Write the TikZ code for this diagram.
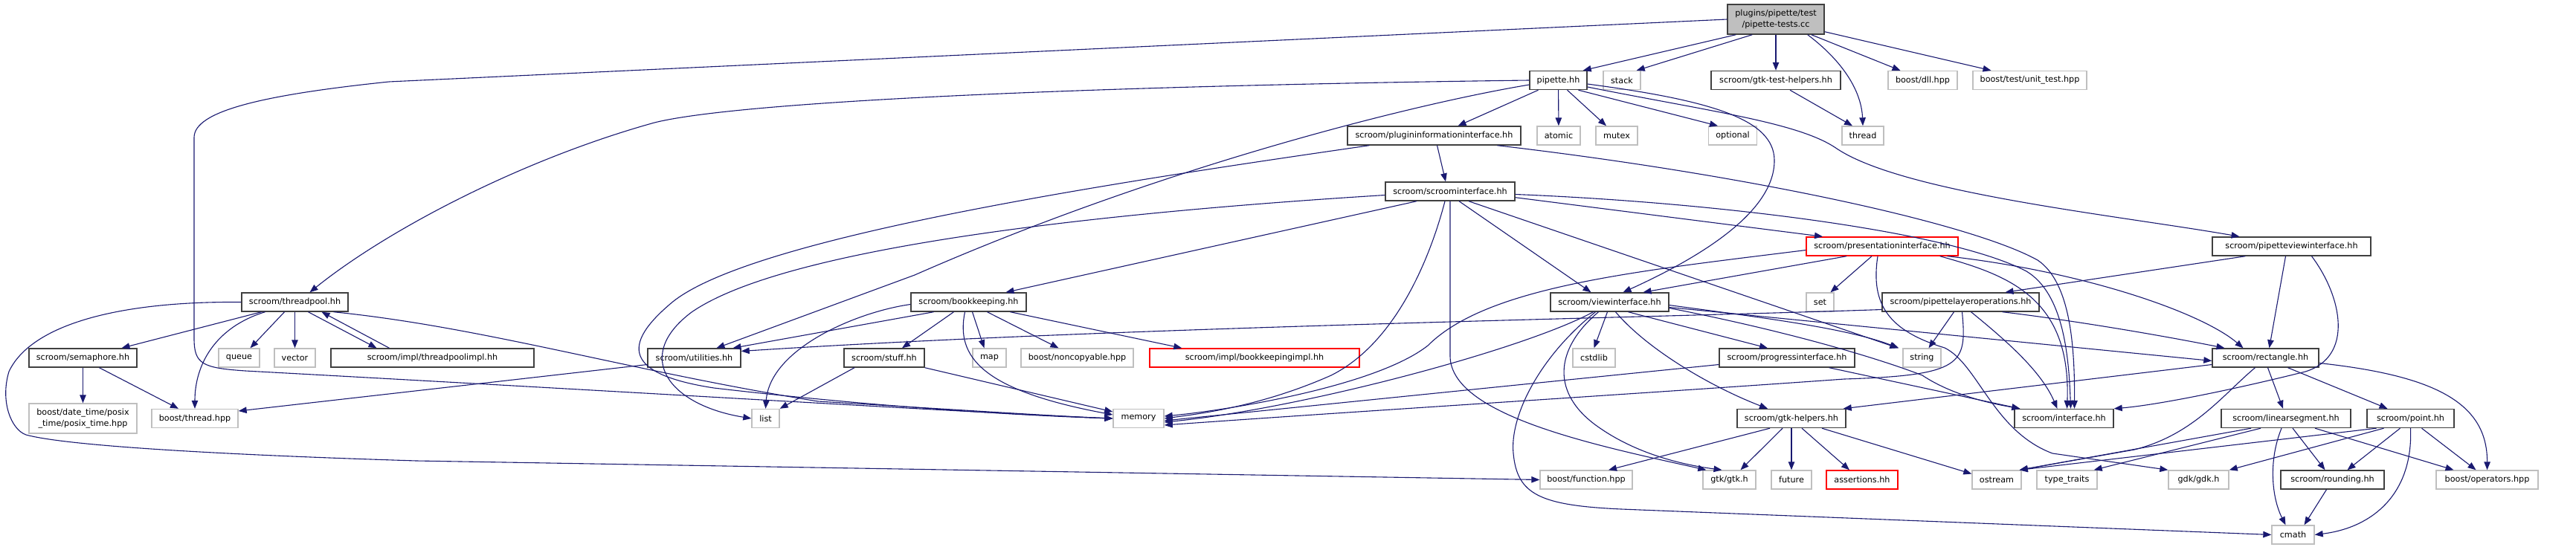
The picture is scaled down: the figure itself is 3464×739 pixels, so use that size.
\documentclass[tikz,border=0pt]{standalone}
\usepackage{fontspec}
\setmainfont{DejaVu Sans}
\usetikzlibrary{arrows.meta}

\definecolor{edgeblue}{RGB}{25,25,112}
\definecolor{boxgray}{RGB}{64,64,64}
\definecolor{extgray}{RGB}{191,191,191}
\definecolor{truncred}{RGB}{255,0,0}

\tikzset{
  hdr/.style={draw=boxgray, line width=1.4pt, rectangle, minimum height=25pt, inner sep=0pt,
    font=\fontsize{11.2}{15}\selectfont},
  sysinc/.style={hdr, draw=extgray},
  cuthdr/.style={hdr, draw=truncred},
  srcfile/.style={hdr, fill=extgray, align=center},
  dep/.style={draw=edgeblue, line width=1.1pt, -{Triangle[length=11pt,width=8.5pt]}}
}

\begin{document}
\begin{tikzpicture}[x=1pt, y=-1pt]

\useasboundingbox (0,0) rectangle (3464,739);

% Source file
\node[srcfile, minimum width=130pt, minimum height=40pt] (root) at (2388,26) {plugins/pipette/test\\/pipette-tests.cc};

% Row 1
\node[hdr, minimum width=77pt] (pipette) at (2095.5,108) {pipette.hh};
\node[sysinc, minimum width=50pt] (stack) at (2181,108) {stack};
\node[hdr, minimum width=174pt] (gtktest) at (2388,108) {scroom/gtk-test-helpers.hh};
\node[sysinc, minimum width=93pt] (dll) at (2585.5,108) {boost/dll.hpp};
\node[sysinc, minimum width=153pt] (unittest) at (2729.5,108) {boost/test/unit\_test.hpp};

% Row 2
\node[hdr, minimum width=233pt] (pluginfo) at (1928.5,182.5) {scroom/plugininformationinterface.hh};
\node[sysinc, minimum width=58pt] (atomic) at (2096,182.5) {atomic};
\node[sysinc, minimum width=56pt] (mutex) at (2174,182.5) {mutex};
\node[sysinc, minimum width=65pt] (optional) at (2330,182.5) {optional};
\node[sysinc, minimum width=56pt] (thread) at (2505,182.5) {thread};

% Row 3
\node[hdr, minimum width=174pt] (scroomif) at (1950,257.5) {scroom/scroominterface.hh};

% Row 4
\node[cuthdr, minimum width=204pt] (presentif) at (2531,331.5) {scroom/presentationinterface.hh};
\node[hdr, minimum width=213pt] (pipetteview) at (3081.5,331.5) {scroom/pipetteviewinterface.hh};

% Row 5
\node[hdr, minimum width=143pt] (threadpool) at (396.5,406.5) {scroom/threadpool.hh};
\node[hdr, minimum width=155pt] (bookkeeping) at (1302.5,406.5) {scroom/bookkeeping.hh};
\node[hdr, minimum width=159pt] (viewif) at (2164.5,406.5) {scroom/viewinterface.hh};
\node[sysinc, minimum width=37pt] (set) at (2447.5,406.5) {set};
\node[hdr, minimum width=211pt] (layerops) at (2636.5,406.5) {scroom/pipettelayeroperations.hh};

% Row 6
\node[hdr, minimum width=145pt] (semaphore) at (111.5,481.5) {scroom/semaphore.hh};
\node[sysinc, minimum width=55pt] (queue) at (321.5,481.5) {queue};
\node[sysinc, minimum width=55pt] (vector) at (396.5,481.5) {vector};
\node[hdr, minimum width=273pt] (poolimpl) at (581.5,481.5) {scroom/impl/threadpoolimpl.hh};
\node[hdr, minimum width=125pt] (utilities) at (933.5,481.5) {scroom/utilities.hh};
\node[hdr, minimum width=108pt] (stuff) at (1189,481.5) {scroom/stuff.hh};
\node[sysinc, minimum width=45pt] (map) at (1330.5,481.5) {map};
\node[sysinc, minimum width=151pt] (noncopy) at (1448.5,481.5) {boost/noncopyable.hpp};
\node[cuthdr, minimum width=282pt] (bkimpl) at (1687,481.5) {scroom/impl/bookkeepingimpl.hh};
\node[sysinc, minimum width=57pt] (cstdlib) at (2143.5,481.5) {cstdlib};
\node[hdr, minimum width=182pt] (progressif) at (2403,481.5) {scroom/progressinterface.hh};
\node[sysinc, minimum width=51pt] (string) at (2584.5,481.5) {string};
\node[hdr, minimum width=143pt] (rectangle) at (3046.5,481.5) {scroom/rectangle.hh};

% Row 7
\node[sysinc, minimum width=145pt, minimum height=40pt, align=center] (datetime) at (111.5,563) {boost/date\_time/posix\\\_time/posix\_time.hpp};
\node[sysinc, minimum width=116pt] (bthread) at (262,563) {boost/thread.hpp};
\node[sysinc, minimum width=37pt] (list) at (1029.5,563) {list};
\node[sysinc, minimum width=68pt] (memory) at (1531,563) {memory};
\node[hdr, minimum width=146pt] (gtkhelpers) at (2409,563) {scroom/gtk-helpers.hh};
\node[hdr, minimum width=133pt] (interface) at (2775.5,563) {scroom/interface.hh};
\node[hdr, minimum width=174pt] (linseg) at (3074,563) {scroom/linearsegment.hh};
\node[hdr, minimum width=117pt] (point) at (3241.5,563) {scroom/point.hh};

% Row 8
\node[sysinc, minimum width=124pt] (function) at (2133,645.5) {boost/function.hpp};
\node[sysinc, minimum width=71pt] (gtkh) at (2325.5,645.5) {gtk/gtk.h};
\node[sysinc, minimum width=54pt] (future) at (2409,645.5) {future};
\node[cuthdr, minimum width=96pt] (assertions) at (2504,645.5) {assertions.hh};
\node[sysinc, minimum width=66pt] (ostream) at (2685,645.5) {ostream};
\node[sysinc, minimum width=81pt] (typetraits) at (2779.5,645.5) {type\_traits};
\node[sysinc, minimum width=81pt] (gdk) at (2956.5,645.5) {gdk/gdk.h};
\node[hdr, minimum width=139pt] (rounding) at (3136.5,645.5) {scroom/rounding.hh};
\node[sysinc, minimum width=137pt] (operators) at (3344.5,645.5) {boost/operators.hpp};

% Row 9
\node[sysinc, minimum width=57pt] (cmath) at (3083.5,719.5) {cmath};

% Source file includes
\draw[dep] (root.west) -- (523,110) .. controls (350,128) and (261,150) .. (261,185) -- (261,455) .. controls (261,490) and (272,495) .. (330,499) .. controls (900,530) and (1300,555) .. (memory.west);
\draw[dep] ([xshift=12pt]root.south west) -- ([xshift=-6pt]pipette.north east);
\draw[dep] ([xshift=34pt]root.south west) -- ([xshift=-6pt]stack.north east);
\draw[dep] (root) -- (gtktest);
\draw[dep] ([xshift=-23pt]root.south east) .. controls (2475,80) and (2503,120) .. (thread.north);
\draw[dep] ([xshift=-18pt]root.south east) -- ([xshift=-30pt]dll.north);
\draw[dep] ([yshift=4pt]root.south east) -- ([xshift=-52pt]unittest.north);
\draw[dep] ([xshift=19pt]gtktest.south) -- ([xshift=-14pt]thread.north);

% pipette.hh
\draw[dep] (pipette) -- (atomic);
\draw[dep] ([xshift=12pt]pipette.south) -- ([xshift=-14pt]mutex.north);
\draw[dep] ([xshift=27pt]pipette.south) -- ([xshift=-20pt]optional.north);
\draw[dep] ([xshift=-27pt]pipette.south) -- ([xshift=32pt]pluginfo.north);
\draw[dep] (pipette.west) .. controls (1500,115) and (1000,135) .. (880,165) .. controls (700,215) and (520,310) .. ([xshift=20pt]threadpool.north);
\draw[dep] ([yshift=-6pt]pipette.west) .. controls (1900,140) and (1560,225) .. (1230,370) -- ([xshift=30pt]utilities.north);
\draw[dep] ([yshift=-5pt]pipette.east) .. controls (2300,135) and (2385,160) .. (2386,215) .. controls (2387,280) and (2300,340) .. ([xshift=18pt]viewif.north);
\draw[dep] ([yshift=-9pt]pipette.east) .. controls (2300,150) and (2420,165) .. (2470,200) .. controls (2560,260) and (2850,290) .. ([xshift=-70pt]pipetteview.north);

% plugininformationinterface.hh
\draw[dep] ([xshift=4pt]pluginfo.south) -- ([xshift=-6pt]scroomif.north);
\draw[dep] ([xshift=85pt]pluginfo.south) .. controls (2350,235) and (2650,300) .. (2740,350) .. controls (2785,380) and (2790,470) .. ([xshift=14pt]interface.north);
\draw[dep] ([xshift=30pt]pluginfo.south west) .. controls (1500,245) and (1000,320) .. (900,410) .. controls (830,470) and (850,505) .. (960,522) .. controls (1200,550) and (1400,560) .. (memory.west);

% scroominterface.hh
\draw[dep] ([yshift=-5pt]scroomif.west) .. controls (1500,285) and (1060,330) .. (930,420) .. controls (850,480) and (900,545) .. (list.west);
\draw[dep] ([xshift=-45pt]scroomif.south) -- ([xshift=50pt]bookkeeping.north);
\draw[dep] ([xshift=-7pt]scroomif.south) .. controls (1925,340) and (1880,460) .. (1790,505) .. controls (1700,545) and (1620,556) .. (memory.east);
\draw[dep] (scroomif.south) -- (1950,480) .. controls (1952,560) and (2150,600) .. ([xshift=5pt]gtkh.north west);
\draw[dep] ([xshift=12pt]scroomif.south) -- ([xshift=-25pt]viewif.north);
\draw[dep] ([xshift=25pt]scroomif.south) -- ([xshift=-6pt]string.north west);
\draw[dep] ([yshift=5pt]scroomif.south east) -- ([xshift=-80pt]presentif.north);
\draw[dep] ([yshift=-4pt]scroomif.east) .. controls (2300,272) and (2620,310) .. (2725,365) .. controls (2775,395) and (2782,480) .. ([xshift=9pt]interface.north);

% presentationinterface.hh
\draw[dep] ([xshift=-14pt]presentif.south) -- ([xshift=14pt]set.north);
\draw[dep] ([xshift=-48pt]presentif.south) -- ([xshift=45pt]viewif.north);
\draw[dep] ([yshift=-5pt]presentif.west) .. controls (2200,365) and (2000,385) .. (1920,465) .. controls (1850,520) and (1650,552) .. ([yshift=3pt]memory.east);
\draw[dep] ([xshift=-25pt]presentif.south east) .. controls (2700,370) and (2785,400) .. ([xshift=4pt]interface.north);
\draw[dep] ([xshift=-15pt]presentif.south east) .. controls (2800,365) and (2960,420) .. ([xshift=-30pt]rectangle.north);
\draw[dep] ([xshift=-6pt]presentif.south) .. controls (2515,410) and (2540,445) .. (2615,468) .. controls (2660,490) and (2680,580) .. (2760,610) -- (gdk.north west);

% pipetteviewinterface.hh
\draw[dep] ([xshift=45pt]pipetteview.south west) -- ([xshift=60pt]layerops.north);
\draw[dep] ([xshift=-8pt]pipetteview.south) -- ([xshift=5pt]rectangle.north);
\draw[dep] ([xshift=27pt]pipetteview.south) .. controls (3150,400) and (3165,480) .. (3100,500) .. controls (3000,525) and (2900,545) .. (interface.north east);

% threadpool.hh
\draw[dep] ([xshift=-45pt]threadpool.south) -- ([xshift=52pt]semaphore.north);
\draw[dep] ([xshift=-40pt]threadpool.south) .. controls (290,440) and (262,490) .. (bthread.north);
\draw[dep] ([xshift=-14pt]threadpool.south) -- ([xshift=15pt]queue.north);
\draw[dep] (threadpool) -- (vector);
\draw[dep] ([xshift=18pt]threadpool.south) -- ([xshift=-75pt]poolimpl.north);
\draw[dep] ([xshift=-20pt]threadpool.south east) .. controls (650,440) and (850,500) .. (1100,540) .. controls (1300,552) and (1420,560) .. (memory.west);
\draw[dep] (threadpool.west) .. controls (150,405) and (40,440) .. (12,500) .. controls (0,540) and (15,578) .. (35,585) .. controls (90,600) and (300,612) .. (560,620) -- (function.west);

% threadpoolimpl.hh
\draw[dep] ([xshift=-58pt]poolimpl.north) -- ([xshift=36pt]threadpool.south);

% semaphore.hh
\draw[dep] (semaphore) -- (datetime);
\draw[dep] ([xshift=22pt]semaphore.south) -- ([xshift=-22pt]bthread.north);

% bookkeeping.hh
\draw[dep] ([yshift=-3pt]bookkeeping.west) .. controls (1150,420) and (1035,470) .. (list.north);
\draw[dep] ([xshift=-47pt]bookkeeping.south) -- ([xshift=52pt]utilities.north);
\draw[dep] ([xshift=-20pt]bookkeeping.south) -- ([xshift=24pt]stuff.north);
\draw[dep] ([xshift=5pt]bookkeeping.south) -- ([xshift=-7pt]map.north);
\draw[dep] ([xshift=25pt]bookkeeping.south) -- ([xshift=-25pt]noncopy.north);
\draw[dep] ([xshift=56pt]bookkeeping.south) -- ([xshift=44pt]bkimpl.north west);
\draw[dep] ([xshift=-5pt]bookkeeping.south) .. controls (1285,480) and (1320,525) .. ([yshift=5pt]memory.west);

% stuff.hh
\draw[dep] ([xshift=-40pt]stuff.south) -- (list.north east);
\draw[dep] (stuff.south east) -- ([yshift=9pt]memory.west);

% utilities.hh
\draw[dep] ([yshift=-9pt]utilities.west) -- ([yshift=10pt]bthread.east);

% viewinterface.hh
\draw[dep] ([xshift=-3pt]viewif.south) -- (cstdlib.north);
\draw[dep] ([xshift=25pt]viewif.south) -- ([xshift=-26pt]progressif.north);
\draw[dep] ([xshift=8pt]viewif.south) .. controls (2215,470) and (2300,520) .. ([xshift=-32pt]gtkhelpers.north);
\draw[dep] ([yshift=-4pt]viewif.east) .. controls (2350,425) and (2480,440) .. ([xshift=-5pt]string.north west);
\draw[dep] ([yshift=-8pt]viewif.east) .. controls (2400,445) and (2520,480) .. (2585,505) .. controls (2630,535) and (2690,545) .. ([xshift=8pt]interface.north west);
\draw[dep] ([yshift=-7pt]viewif.east) -- ([yshift=-4pt]rectangle.west);
\draw[dep] ([xshift=-22pt]viewif.south) .. controls (2050,470) and (1750,550) .. ([yshift=-5pt]memory.east);
\draw[dep] ([xshift=-15pt]viewif.south) .. controls (2090,470) and (2085,530) .. (2150,575) .. controls (2200,610) and (2260,625) .. ([xshift=-10pt]gtkh.north);
\draw[dep] ([xshift=-19pt]viewif.south) .. controls (2070,480) and (2030,560) .. (2035,610) .. controls (2040,665) and (2070,680) .. (2180,685) -- (cmath.west);

% pipettelayeroperations.hh
\draw[dep] ([xshift=-9pt]layerops.south) -- ([xshift=9pt]string.north);
\draw[dep] ([xshift=14pt]layerops.south) .. controls (2700,460) and (2745,500) .. ([xshift=-9pt]interface.north);
\draw[dep] ([xshift=-50pt]layerops.south east) .. controls (2780,430) and (2900,450) .. ([xshift=-55pt]rectangle.north);
\draw[dep] ([yshift=-10pt]layerops.west) .. controls (2200,428) and (1500,440) .. ([yshift=9pt]utilities.east);
\draw[dep] ([xshift=2pt]layerops.south) .. controls (2645,490) and (2640,505) .. (2480,510) .. controls (2200,530) and (1800,555) .. ([yshift=-9pt]memory.east);

% progressinterface.hh
\draw[dep] ([xshift=-35pt]progressif.south east) -- ([xshift=8pt]interface.north west);
\draw[dep] ([yshift=-9pt]progressif.west) -- ([yshift=-3pt]memory.east);

% rectangle.hh
\draw[dep] ([yshift=-9pt]rectangle.west) -- ([xshift=-4pt]gtkhelpers.north east);
\draw[dep] ([xshift=3pt]rectangle.south) -- ([xshift=-4pt]linseg.north);
\draw[dep] ([xshift=30pt]rectangle.south) -- ([xshift=-31pt]point.north);
\draw[dep] ([yshift=-7pt]rectangle.east) .. controls (3270,505) and (3345,540) .. (operators.north);
\draw[dep] ([xshift=-14pt]rectangle.south) .. controls (2990,530) and (2950,585) .. (2870,605) -- ([xshift=-3pt]ostream.north east);

% linearsegment.hh
\draw[dep] ([xshift=-47pt]linseg.south) -- ([xshift=-3pt]ostream.north east);
\draw[dep] ([xshift=-34pt]linseg.south) -- ([xshift=-5pt]typetraits.north east);
\draw[dep] ([xshift=-6pt]linseg.south) .. controls (3050,620) and (3055,670) .. ([xshift=-10pt]cmath.north);
\draw[dep] ([xshift=9pt]linseg.south) -- ([xshift=-10pt]rounding.north);
\draw[dep] ([xshift=39pt]linseg.south) -- ([xshift=-45pt]operators.north);

% point.hh
\draw[dep] ([xshift=-36pt]point.south) -- (gdk.north east);
\draw[dep] ([xshift=-46pt]point.south) -- ([xshift=-3pt]ostream.north east);
\draw[dep] ([xshift=-14pt]point.south) -- ([xshift=20pt]rounding.north);
\draw[dep] (point.south) .. controls (3245,665) and (3190,710) .. (cmath.east);
\draw[dep] ([xshift=15pt]point.south) -- ([xshift=-15pt]operators.north);

% rounding.hh
\draw[dep] ([xshift=-8pt]rounding.south) -- ([xshift=15pt]cmath.north);

% gtk-helpers.hh
\draw[dep] ([xshift=-29pt]gtkhelpers.south) -- ([xshift=30pt]function.north);
\draw[dep] ([xshift=-12pt]gtkhelpers.south) -- ([xshift=15pt]gtkh.north);
\draw[dep] (gtkhelpers) -- (future);
\draw[dep] ([xshift=14pt]gtkhelpers.south) -- ([xshift=-17pt]assertions.north);
\draw[dep] ([xshift=41pt]gtkhelpers.south) -- ([yshift=8pt]ostream.west);

\end{tikzpicture}
\end{document}
